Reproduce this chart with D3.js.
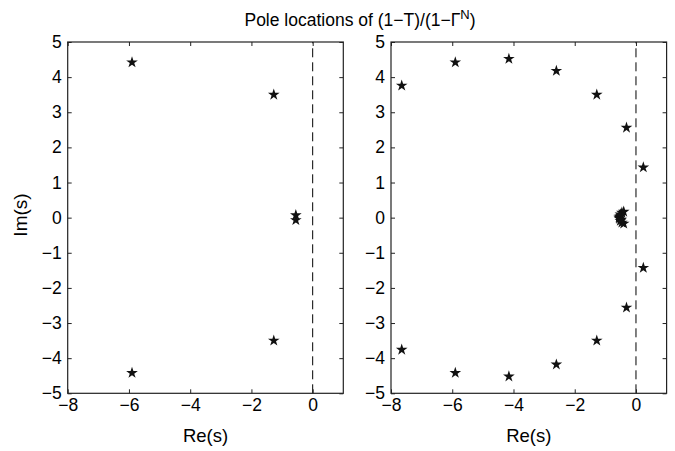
<!DOCTYPE html>
<html>
<head>
<meta charset="utf-8">
<script src="https://cdn.jsdelivr.net/npm/d3@7"></script>
<style>
  body { margin: 0; background: #fff; }
  text { font-family: "Liberation Sans", Arial, sans-serif; fill: #000; }
</style>
</head>
<body>
<script>
// pole locations
let leftRe = [-5.9, -1.27, -0.55, -0.55, -1.27, -5.9];
let leftIm = [4.42, 3.5, 0.07, -0.07, -3.5, -4.42];

let rightRe = [-7.65, -5.9, -4.15, -2.6, -1.28, -0.31, 0.24,
               0.24, -0.31, -1.28, -2.6, -4.15, -5.9, -7.65,
               -0.40, -0.46, -0.51, -0.54, -0.55, -0.54, -0.51, -0.46, -0.40, -0.50, -0.48];
let rightIm = [3.76, 4.42, 4.52, 4.18, 3.5, 2.56, 1.43,
               -1.43, -2.56, -3.5, -4.18, -4.52, -4.42, -3.76,
               0.17, 0.14, 0.09, 0.03, 0.0, -0.03, -0.09, -0.14, -0.17, 0.05, -0.06];

let xTicks = [-8, -6, -4, -2, 0];
let yTicks = [5, 4, 3, 2, 1, 0, -1, -2, -3, -4, -5];

let w = 675;
let h = 451;
let plotTop = 42, plotBottom = 393.3;
let panelW = 275.6;
let panels = [
  { left: 67.7, re: leftRe, im: leftIm },
  { left: 391, re: rightRe, im: rightIm }
];

let svg = d3.select('body').append('svg').attr('width', w).attr('height', h);

let fmt = (d) => d < 0 ? '\u2212' + Math.abs(d) : '' + d;

let yScale = d3.scaleLinear().domain([-5, 5]).range([plotBottom, plotTop]);

panels.forEach((p) => {
  let xScale = d3.scaleLinear().domain([-8, 1]).range([p.left, p.left + panelW]);
  let g = svg.append('g');

  // dashed line at Re(s) = 0
  g.append('line')
    .attr('x1', xScale(0)).attr('x2', xScale(0))
    .attr('y1', yScale(-5)).attr('y2', yScale(5))
    .style('stroke', '#000')
    .style('stroke-width', 1)
    .style('stroke-dasharray', '9,5');

  // axes with inward ticks on all four sides
  let tick = 4;
  let xb = g.append('g').attr('transform', `translate(0, ${plotBottom})`)
    .call(d3.axisBottom(xScale).tickValues(xTicks).tickFormat(fmt).tickSizeInner(-tick).tickSizeOuter(0).tickPadding(5));
  let xt = g.append('g').attr('transform', `translate(0, ${plotTop})`)
    .call(d3.axisTop(xScale).tickValues(xTicks).tickFormat('').tickSizeInner(-tick).tickSizeOuter(0));
  let yl = g.append('g').attr('transform', `translate(${p.left}, 0)`)
    .call(d3.axisLeft(yScale).tickValues(yTicks).tickFormat(fmt).tickSizeInner(-tick).tickSizeOuter(0).tickPadding(6));
  let yr = g.append('g').attr('transform', `translate(${p.left + panelW}, 0)`)
    .call(d3.axisRight(yScale).tickValues(yTicks).tickFormat('').tickSizeInner(-tick).tickSizeOuter(0));

  [xb, xt, yl, yr].forEach((a) => {
    a.select('.domain').remove();
    a.selectAll('line').style('stroke', '#222');
    a.selectAll('text').style('font-size', '17.5px').style('fill', '#000');
  });

  // box
  g.append('rect')
    .attr('x', p.left).attr('y', plotTop)
    .attr('width', panelW).attr('height', plotBottom - plotTop)
    .style('fill', 'none')
    .style('stroke', '#222')
    .style('stroke-width', 1.2);

  // stars
  let star = d3.symbol().type(d3.symbolStar).size(42);
  g.selectAll('.pole')
    .data(p.re.map((r, i) => ({ re: r, im: p.im[i] })))
    .enter()
    .append('path')
    .classed('pole', true)
    .attr('d', star)
    .attr('transform', (d) => `translate(${xScale(d.re)}, ${yScale(d.im)})`)
    .style('fill', '#111');

  g.append('text')
    .attr('x', p.left + panelW / 2)
    .attr('y', 442)
    .attr('text-anchor', 'middle')
    .style('font-size', '18.5px')
    .text('Re(s)');
});

svg.append('text')
  .attr('transform', `translate(27, 215) rotate(-90)`)
  .attr('text-anchor', 'middle')
  .style('font-size', '19px')
  .text('Im(s)');

let title = svg.append('text')
  .attr('x', 360)
  .attr('y', 26)
  .attr('text-anchor', 'middle')
  .style('font-size', '17.5px');
title.append('tspan').text('Pole locations of (1\u2212T)/(1\u2212\u0393');
title.append('tspan').attr('dy', -7).style('font-size', '13px').text('N');
title.append('tspan').attr('dy', 7).text(')');
</script>
</body>
</html>
